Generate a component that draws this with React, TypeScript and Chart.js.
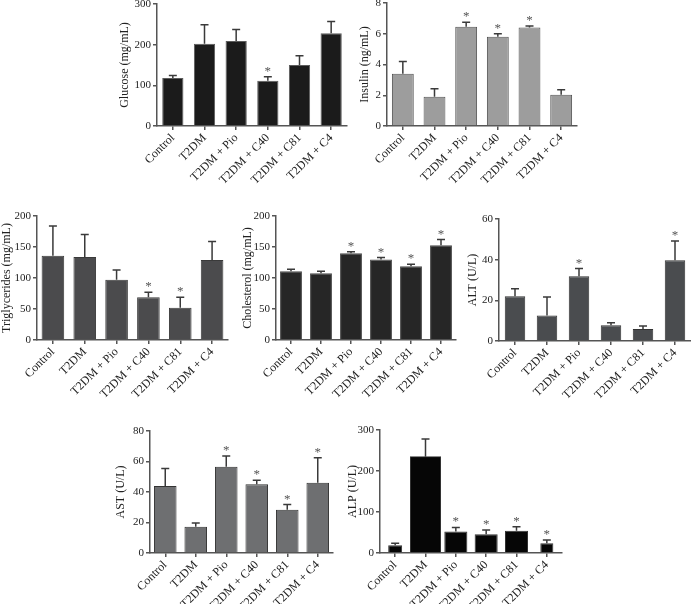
import React, { useEffect, useRef } from "react";
import { Chart, registerables } from "chart.js";

Chart.register(...registerables);

const categories = ["Control", "T2DM", "T2DM + Pio", "T2DM + C40", "T2DM + C81", "T2DM + C4"];

const glucoseMean = [118, 202, 209, 111, 150, 228];
const glucoseSem = [6, 47, 28, 10, 23, 29];
const glucoseStars = [0, 0, 0, 1, 0, 0];

const insulinMean = [3.4, 1.9, 6.45, 5.8, 6.4, 2.03];
const insulinSem = [0.8, 0.53, 0.3, 0.2, 0.1, 0.33];
const insulinStars = [0, 0, 1, 1, 1, 0];

const trigMean = [136, 134, 97, 69, 52, 129];
const trigSem = [48, 36, 16, 8, 17, 30];
const trigStars = [0, 0, 0, 1, 1, 0];

const cholMean = [111, 107.5, 140, 130, 119, 153];
const cholSem = [3, 3.5, 2.5, 3, 3, 9];
const cholStars = [0, 0, 1, 1, 1, 1];

const altMean = [22, 12.6, 31.8, 7.7, 5.9, 39.7];
const altSem = [3.7, 9, 3.8, 1.3, 1.5, 9.5];
const altStars = [0, 0, 1, 0, 0, 1];

const astMean = [44, 17.2, 56.6, 45.1, 28.3, 46];
const astSem = [11.4, 2.4, 7, 2.6, 3.5, 16.5];
const astStars = [0, 0, 1, 1, 1, 1];

const alpMean = [18.6, 235, 52.7, 46, 54, 24];
const alpSem = [5.4, 43, 9.8, 10, 10, 7.6];
const alpStars = [0, 0, 1, 1, 1, 1];

const FONT = "'Liberation Serif', 'Times New Roman', serif";
const PAD_TOP = 12;
const PAD_RIGHT = 2;
const X_AXIS_H = 70;

type Panel = {
  title: string;
  mean: number[];
  sem: number[];
  stars: number[];
  max: number;
  step: number;
  fill: string;
  border: string;
  widths: number[];
  left: number;
  right: number;
  top: number;
  bottom: number;
  axisW: number;
};

const uni = (w: number) => categories.map(() => w);

const panels: Panel[] = [
  { title: "Glucose (mg/mL)", mean: glucoseMean, sem: glucoseSem, stars: glucoseStars, max: 300, step: 100, fill: "#1b1b1b", border: "#5c5c5c", widths: uni(0.67), left: 157, right: 347, top: 4, bottom: 126, axisW: 43 },
  { title: "Insulin (ng/mL)", mean: insulinMean, sem: insulinSem, stars: insulinStars, max: 8, step: 2, fill: "#9d9d9d", border: "#555555", widths: uni(0.69), left: 387, right: 577, top: 3, bottom: 126, axisW: 33 },
  { title: "Triglycerides (mg/mL)", mean: trigMean, sem: trigSem, stars: trigStars, max: 200, step: 50, fill: "#4b4b4d", border: "#3a3a3a", widths: uni(0.71), left: 37, right: 228, top: 216, bottom: 340, axisW: 41 },
  { title: "Cholesterol (mg/mL)", mean: cholMean, sem: cholSem, stars: cholStars, max: 200, step: 50, fill: "#262626", border: "#4a4a4a", widths: uni(0.73), left: 276, right: 456, top: 216, bottom: 340, axisW: 39 },
  { title: "ALT (U/L)", mean: altMean, sem: altSem, stars: altStars, max: 60, step: 20, fill: "#4a4c4f", border: "#333333", widths: uni(0.64), left: 499, right: 691, top: 219, bottom: 341, axisW: 37 },
  { title: "AST (U/L)", mean: astMean, sem: astSem, stars: astStars, max: 80, step: 20, fill: "#6e6f71", border: "#333333", widths: uni(0.74), left: 150, right: 333, top: 431, bottom: 553, axisW: 40 },
  { title: "ALP (U/L)", mean: alpMean, sem: alpSem, stars: alpStars, max: 300, step: 100, fill: "#060606", border: "#333333", widths: [0.46, 1.0, 0.76, 0.76, 0.76, 0.43], left: 380, right: 562, top: 430, bottom: 553, axisW: 38 },
];

function PanelChart({ p }: { p: Panel }) {
  const ref = useRef<HTMLCanvasElement | null>(null);
  const cLeft = p.left - p.axisW;
  const cTop = p.top - PAD_TOP;
  const cWidth = p.right + PAD_RIGHT - cLeft;
  const cHeight = p.bottom + X_AXIS_H - cTop;

  useEffect(() => {
    if (!ref.current) return;
    const uniqueW = Array.from(new Set(p.widths));
    const datasets = uniqueW.map((w) => ({
      data: p.mean.map((v, i) => (p.widths[i] === w ? v : null)),
      backgroundColor: p.fill,
      borderColor: p.border,
      borderWidth: 1,
      barPercentage: w,
      categoryPercentage: 1,
      grouped: false,
    }));
    const errPlugin = {
      id: "errbars",
      afterDatasetsDraw(chart: any) {
        const { ctx } = chart;
        const x = chart.scales.x;
        const y = chart.scales.y;
        ctx.save();
        p.mean.forEach((m, i) => {
          const cx = x.getPixelForValue(i);
          const yb = y.getPixelForValue(m);
          const yt = y.getPixelForValue(m + p.sem[i]);
          ctx.strokeStyle = "#3a3a3a";
          ctx.lineWidth = 1.5;
          ctx.beginPath();
          ctx.moveTo(cx, yb);
          ctx.lineTo(cx, yt);
          ctx.moveTo(cx - 4, yt);
          ctx.lineTo(cx + 4, yt);
          ctx.stroke();
          if (p.stars[i]) {
            ctx.fillStyle = "#555";
            ctx.font = `13px ${FONT}`;
            ctx.textAlign = "center";
            ctx.textBaseline = "alphabetic";
            ctx.fillText("*", cx, yt - 2);
          }
        });
        ctx.restore();
      },
    };
    const chart = new Chart(ref.current, {
      type: "bar",
      data: { labels: categories, datasets: datasets as any },
      options: {
        responsive: false,
        animation: false,
        layout: { padding: { top: PAD_TOP, right: PAD_RIGHT, left: 0, bottom: 0 } },
        plugins: { legend: { display: false }, tooltip: { enabled: false } },
        scales: {
          x: {
            afterFit: (s: any) => { s.height = X_AXIS_H; },
            grid: { display: true, drawOnChartArea: false, drawTicks: true, tickLength: 4, color: "#555", lineWidth: 1.5, offset: false },
            border: { display: true, color: "#555", width: 1.5 },
            ticks: { autoSkip: false, minRotation: 45, maxRotation: 45, color: "#222", padding: 1, font: { family: FONT, size: 12 } },
          },
          y: {
            min: 0,
            max: p.max,
            afterFit: (s: any) => { s.width = p.axisW; },
            grid: { display: true, drawOnChartArea: false, drawTicks: true, tickLength: 4, color: "#555", lineWidth: 1.5 },
            border: { display: true, color: "#555", width: 1.5 },
            ticks: { stepSize: p.step, color: "#222", padding: 2, font: { family: FONT, size: 11 } },
            title: { display: true, text: p.title, color: "#222", padding: { top: 4, bottom: 4 }, font: { family: FONT, size: 12 } },
          },
        },
      } as any,
      plugins: [errPlugin],
    });
    return () => chart.destroy();
  }, [p]);

  return (
    <canvas
      ref={ref}
      width={cWidth}
      height={cHeight}
      style={{ position: "absolute", left: cLeft, top: cTop, width: cWidth, height: cHeight }}
    />
  );
}

export default function App() {
  return (
    <div style={{ position: "absolute", left: 0, top: 0, width: 691, height: 604, overflow: "hidden", background: "#fff" }}>
      {panels.map((p, i) => (
        <PanelChart key={i} p={p} />
      ))}
    </div>
  );
}
